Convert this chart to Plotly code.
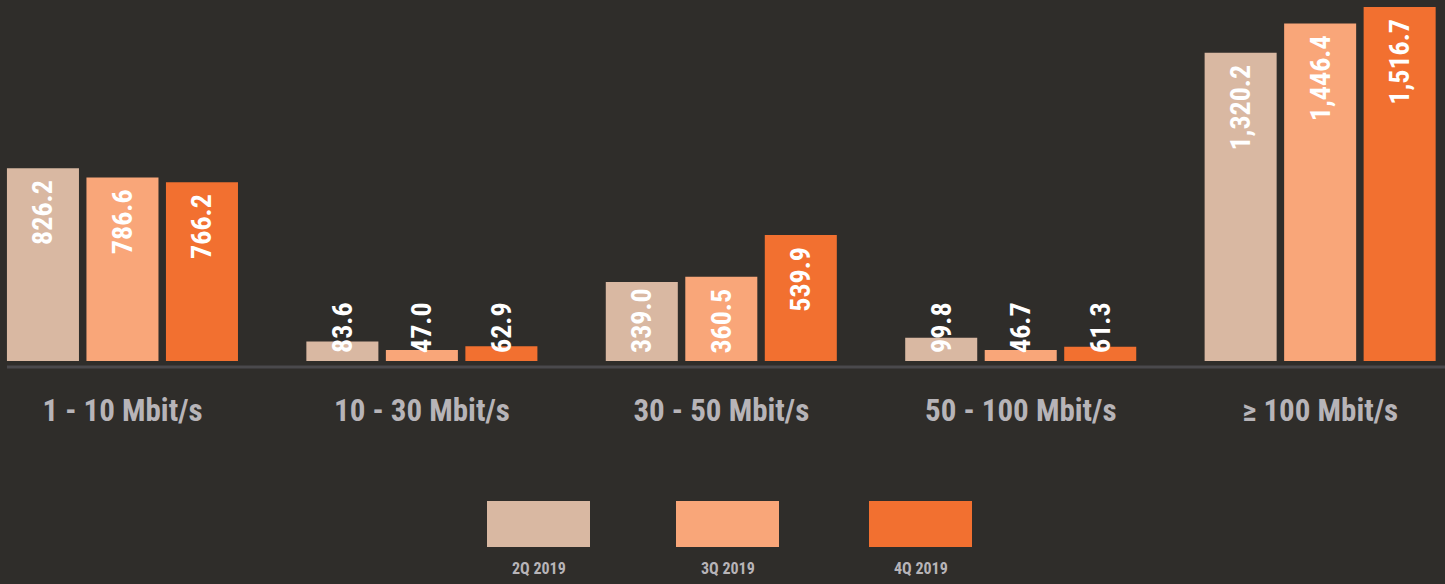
import plotly.graph_objects as go

categories = ["1 - 10 Mbit/s", "10 - 30 Mbit/s", "30 - 50 Mbit/s", "50 - 100 Mbit/s", "≥ 100 Mbit/s"]
series_names = ["2Q 2019", "3Q 2019", "4Q 2019"]
q2_2019 = [826.2, 83.6, 339.0, 99.8, 1320.2]
q3_2019 = [786.6, 47.0, 360.5, 46.7, 1446.4]
q4_2019 = [766.2, 62.9, 539.9, 61.3, 1516.7]
series_values = [q2_2019, q3_2019, q4_2019]
colors = ["#d9b8a2", "#f9a679", "#f27030"]

BG = "#2f2d2a"
LABEL = "#b7b4b8"
FONT = "Roboto Condensed, Roboto, sans-serif"

W, H = 1445, 584
plot_bottom = 361
y_max = 1546.7
px_per_unit = plot_bottom / y_max

def fmt(v):
    return f"{v:,.1f}"

fig = go.Figure()
for i, (name, vals) in enumerate(zip(series_names, series_values)):
    fig.add_trace(go.Bar(
        x=categories, y=vals, name=name, offsetgroup=str(i),
        marker=dict(color=colors[i], line=dict(width=0)),
        hoverinfo="skip", showlegend=False,
    ))

# transparent helper bars carrying the value labels:
# tall bars -> label just below the bar top; short bars -> label sits near the baseline
label_font = dict(color="white", size=28, family=FONT, weight="bold")
top_pad_units = 9 / px_per_unit
short_limit = 350
base_units = 5 / px_per_unit
short_height = 80 / px_per_unit
for i, vals in enumerate(series_values):
    tall = [v >= short_limit for v in vals]
    fig.add_trace(go.Bar(
        x=categories, y=[(v - top_pad_units) if t else None for v, t in zip(vals, tall)],
        offsetgroup=str(i),
        marker=dict(color="rgba(0,0,0,0)", line=dict(width=0)),
        text=[fmt(v) if t else "" for v, t in zip(vals, tall)], textposition="inside",
        insidetextanchor="end", textangle=-90, constraintext="none",
        textfont=label_font, hoverinfo="skip", showlegend=False,
    ))
    fig.add_trace(go.Bar(
        x=categories, y=[None if t else short_height for t in tall],
        base=base_units, offsetgroup=str(i),
        marker=dict(color="rgba(0,0,0,0)", line=dict(width=0)),
        text=["" if t else fmt(v) for v, t in zip(vals, tall)], textposition="inside",
        insidetextanchor="start", textangle=-90, constraintext="none",
        textfont=label_font, hoverinfo="skip", showlegend=False,
    ))

# axis line
fig.add_shape(type="line", xref="paper", yref="paper",
              x0=7 / W, x1=1, y0=-6 / plot_bottom, y1=-6 / plot_bottom,
              line=dict(color="#4a494c", width=3))

# custom legend
legend_x = [487, 676, 869]
for i, name in enumerate(series_names):
    x0 = legend_x[i]
    fig.add_shape(type="rect", xref="paper", yref="paper",
                  x0=x0 / W, x1=(x0 + 103) / W,
                  y0=-(547 - plot_bottom) / plot_bottom, y1=-(501 - plot_bottom) / plot_bottom,
                  fillcolor=colors[i], line=dict(width=0))
    fig.add_annotation(xref="paper", yref="paper",
                       x=(x0 + 51.5) / W, y=-(568 - plot_bottom) / plot_bottom,
                       text=name, showarrow=False, xanchor="center", yanchor="middle",
                       font=dict(color=LABEL, size=16, family=FONT, weight="bold"))

fig.update_layout(
    width=W, height=H,
    paper_bgcolor=BG, plot_bgcolor=BG,
    margin=dict(l=0, r=0, t=0, b=H - plot_bottom),
    barmode="group", bargap=0.2034, bargroupgap=0.094,
    showlegend=False,
    xaxis=dict(
        type="category", range=[-0.409, 4.417],
        showgrid=False, zeroline=False, showline=False,
        ticks="outside", ticklen=22, tickcolor="rgba(0,0,0,0)",
        tickfont=dict(color=LABEL, size=31, family=FONT, weight="bold"),
        fixedrange=True,
    ),
    yaxis=dict(range=[0, y_max], visible=False, showgrid=False, zeroline=False, fixedrange=True),
)

post = "document.body.style.margin='0';document.body.style.background='%s';" % BG
fig.write_html("out.html", post_script=post, config={"displayModeBar": False})
